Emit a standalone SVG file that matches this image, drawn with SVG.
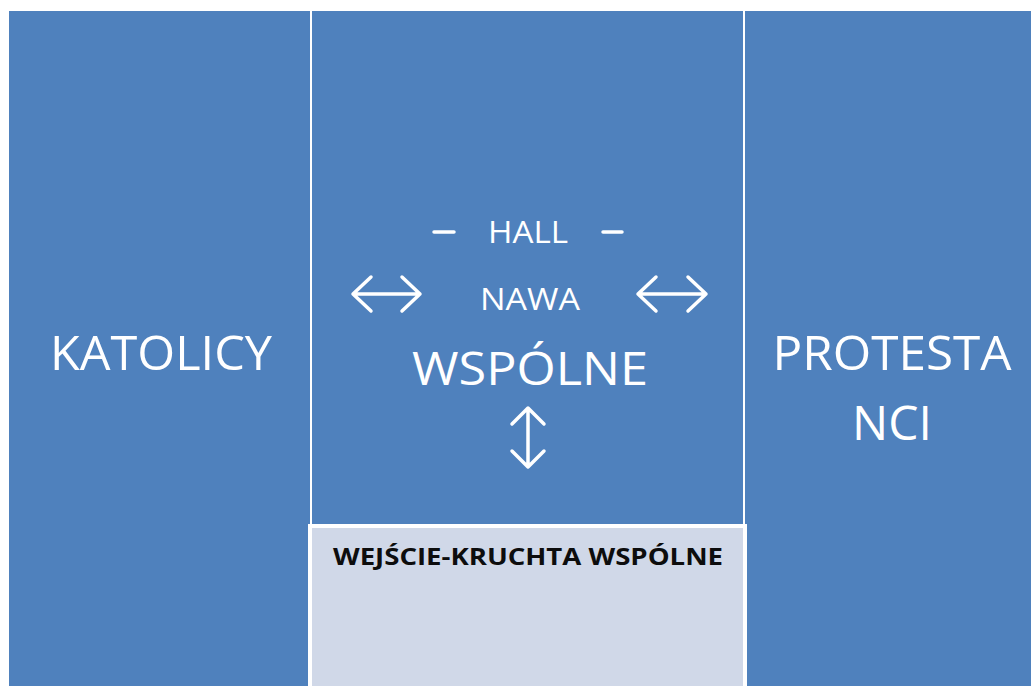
<svg xmlns="http://www.w3.org/2000/svg" width="1031" height="686" viewBox="0 0 1031 686">
<style>
.w{fill:#fff;font-family:"Open Sans","Liberation Sans",sans-serif;text-anchor:middle}
.b{fill:#0d0d0d;font-family:"Open Sans","Liberation Sans",sans-serif;font-weight:bold;text-anchor:middle}
.arr{fill:none;stroke:#fff;stroke-width:3.5;stroke-linecap:round;stroke-linejoin:round}
</style>
<rect width="1031" height="686" fill="#fff"/>
<g id="katolicy">
<rect x="9" y="11" width="301" height="675" fill="#4f81bd"/>
<text class="w" x="161" y="370" font-size="48" textLength="222" lengthAdjust="spacingAndGlyphs">KATOLICY</text>
</g>
<g id="nawa">
<rect x="312" y="11" width="431" height="515" fill="#4f81bd"/>
<text class="w" x="528" y="243" font-size="31" textLength="80" lengthAdjust="spacingAndGlyphs">HALL</text>
<line class="arr" x1="434" y1="232" x2="454" y2="232" stroke-width="2.5"/>
<line class="arr" x1="603" y1="232" x2="622" y2="232" stroke-width="2.5"/>
<text class="w" x="530" y="310" font-size="31" textLength="100" lengthAdjust="spacingAndGlyphs">NAWA</text>
<text class="w" x="530" y="385" font-size="45" textLength="236" lengthAdjust="spacingAndGlyphs">WSPÓLNE</text>
</g>
<g id="protestanci">
<rect x="745" y="11" width="286" height="675" fill="#4f81bd"/>
<text class="w" x="892" y="370" font-size="48" textLength="239" lengthAdjust="spacingAndGlyphs">PROTESTA</text>
<text class="w" x="892" y="440" font-size="48">NCI</text>
</g>
<g id="kruchta">
<rect x="310" y="526" width="435" height="162" fill="#d0d8e8" stroke="#fff" stroke-width="4"/>
<text class="b" x="528" y="565" font-size="24" textLength="390" lengthAdjust="spacingAndGlyphs">WEJŚCIE-KRUCHTA  WSPÓLNE</text>
</g>
<g id="connectors">
<path class="arr" d="M353 294H420M371 277L353 294L371 311M402 277L420 294L402 311"/>
<path class="arr" d="M638 294H706M656 277L638 294L656 311M688 277L706 294L688 311"/>
<path class="arr" d="M528 408V467M512 424L528 408L544 424M512 451L528 467L544 451"/>
</g>
</svg>
